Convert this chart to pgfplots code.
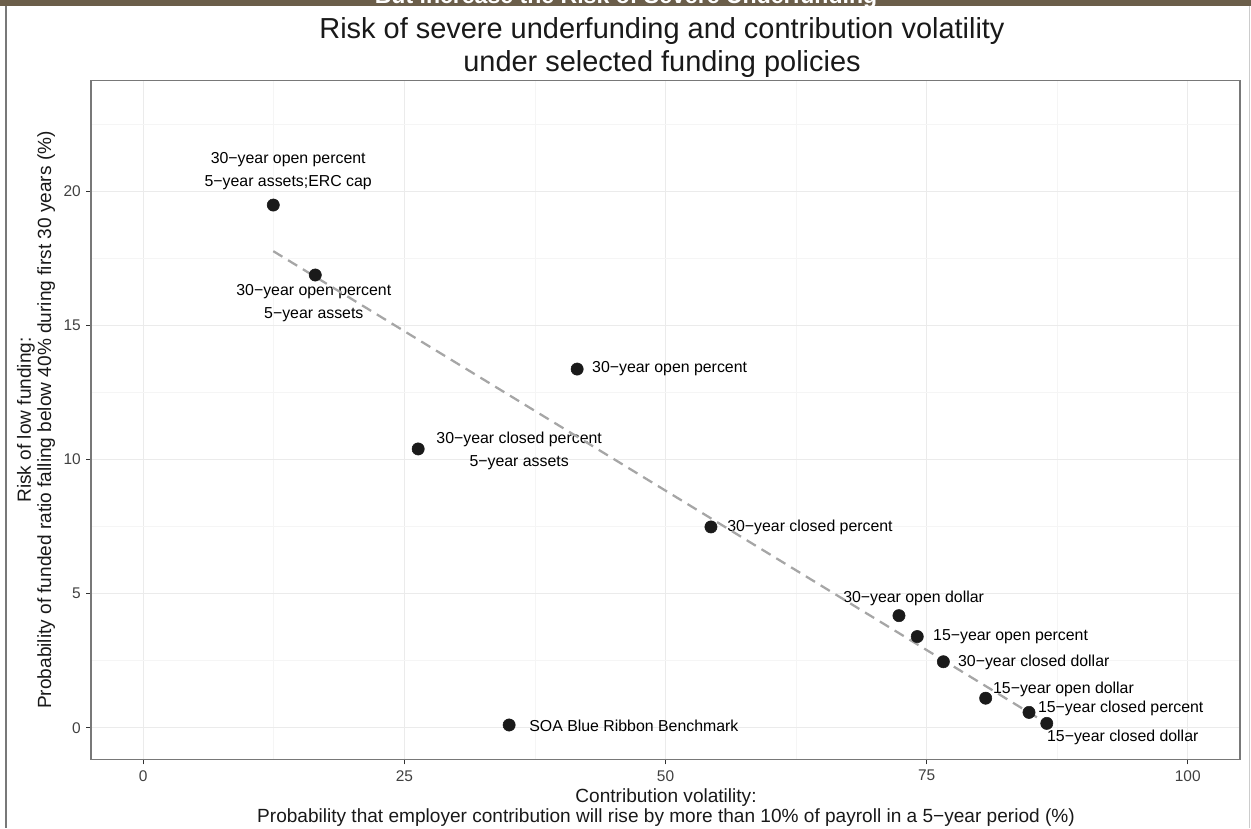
\documentclass[border=0pt]{standalone}
\usepackage{fontspec}
\setmainfont{Liberation Sans}
\usepackage{pgfplots}
\pgfplotsset{compat=1.18}
\definecolor{banner}{RGB}{107,94,74}
\definecolor{gridmaj}{RGB}{235,235,235}
\definecolor{gridmin}{RGB}{245,245,245}
\definecolor{frame}{RGB}{120,120,120}
\definecolor{dot}{RGB}{26,26,26}
\definecolor{trend}{RGB}{166,166,166}
\newcommand{\lbl}{\fontsize{11.9}{17.25}\selectfont}
\begin{document}
\begin{tikzpicture}
\path[use as bounding box] (0,0) rectangle (938.25pt,621pt);
\begin{scope}[x=0.75pt,y=-0.75pt,yshift=621pt]
  \fill[banner] (0,0) rectangle (1251,6);
  \begin{scope}
    \clip (0,0) rectangle (1251,6);
    \node[anchor=base, inner sep=0pt, text=white, font=\bfseries\fontsize{17.3}{20}\selectfont] at (626,4) {But increase the Risk of Severe Underfunding};
  \end{scope}
  \draw[color=frame, line width=1.5pt] (5.7,6) -- (5.7,828);
  \draw[color=black!20, line width=1.1pt] (1249.5,6) -- (1249.5,828);
  \node[anchor=base, inner sep=0pt, font=\fontsize{21.7}{24}\selectfont, text=black!90] at (662,39) {Risk of severe underfunding and contribution volatility};
  \node[anchor=base, inner sep=0pt, font=\fontsize{21.7}{24}\selectfont, text=black!90] at (662,72) {under selected funding policies};
  \node[anchor=base, inner sep=0pt, font=\fontsize{14.3}{16}\selectfont, text=black!90] at (666,802) {Contribution volatility:};
  \node[anchor=base, inner sep=0pt, font=\fontsize{14.3}{16}\selectfont, text=black!90] at (666,822) {Probability that employer contribution will rise by more than 10\% of payroll in a 5−year period (\%)};
  \node[anchor=base, rotate=90, inner sep=0pt, font=\fontsize{14.3}{16}\selectfont, text=black!90] at (31,420) {Risk of low funding:};
  \node[anchor=base, rotate=90, inner sep=0pt, font=\fontsize{14.3}{16}\selectfont, text=black!90] at (51,420) {Probability of funded ratio falling below 40\% during first 30 years (\%)};
\end{scope}
\begin{axis}[
  at={(68.25pt,51.525pt)}, anchor=south west, scale only axis,
  width=861.75pt, height=508.95pt,
  xmin=-5, xmax=105, ymin=-1.18, ymax=24.14,
  xtick={0,25,50,75,100}, ytick={0,5,10,15,20},
  minor xtick={12.5,37.5,62.5,87.5}, minor ytick={2.5,7.5,12.5,17.5,22.5},
  xmajorgrids, ymajorgrids, xminorgrids, yminorgrids,
  major grid style={draw=gridmaj, line width=0.8pt},
  minor grid style={draw=gridmin, line width=0.6pt},
  axis line style={draw=frame, line width=1.2pt},
  tick align=outside, tick pos=left,
  major tick length=3.75pt, minor tick length=0pt,
  every tick/.style={draw=black!80, line width=0.8pt},
  /pgf/number format/assume math mode=true,
  tick label style={font=\fontsize{11.6}{13}\selectfont, text=black!75, inner sep=0pt},
  xticklabel style={anchor=north},
  yticklabel style={anchor=east},
  xticklabel shift=4.25pt,
  yticklabel shift=3.75pt,
  clip=false,
]
\addplot[only marks, mark=*, mark size=4.6pt, color=dot] coordinates {
  (12.45,19.50) (16.47,16.89) (41.54,13.38) (26.32,10.40) (54.35,7.49)
  (72.35,4.18) (74.10,3.40) (76.60,2.46) (80.65,1.10) (84.80,0.57)
  (86.50,0.16) (35.03,0.10)
};
\node[align=center, inner sep=0pt, font=\lbl] at (axis cs:13.88,20.75) {30−year open percent\\5−year assets;ERC cap};
\node[align=center, inner sep=0pt, font=\lbl] at (axis cs:16.33,15.85) {30−year open percent\\5−year assets};
\node[anchor=west, inner sep=0pt, font=\lbl] at (axis cs:42.96,13.38) {30−year open percent};
\node[align=center, inner sep=0pt, font=\lbl] at (axis cs:35.99,10.31) {30−year closed percent\\5−year assets};
\node[anchor=west, inner sep=0pt, font=\lbl] at (axis cs:55.89,7.49) {30−year closed percent};
\node[anchor=west, inner sep=0pt, font=\lbl] at (axis cs:66.99,4.84) {30−year open dollar};
\node[anchor=west, inner sep=0pt, font=\lbl] at (axis cs:75.60,3.38) {15−year open percent};
\node[anchor=west, inner sep=0pt, font=\lbl] at (axis cs:77.99,2.45) {30−year closed dollar};
\node[anchor=west, inner sep=0pt, font=\lbl] at (axis cs:81.34,1.44) {15−year open dollar};
\node[anchor=west, inner sep=0pt, font=\lbl] at (axis cs:85.64,0.735) {15−year closed percent};
\node[anchor=west, inner sep=0pt, font=\lbl] at (axis cs:86.51,-0.35) {15−year closed dollar};
\node[anchor=west, inner sep=0pt, font=\lbl] at (axis cs:36.94,0.063) {SOA Blue Ribbon Benchmark};
\addplot[color=trend, line width=1.7pt, dash pattern=on 8pt off 5pt] coordinates {(12.45,17.78) (86.50,0.16)};
\end{axis}
\end{tikzpicture}
\end{document}
